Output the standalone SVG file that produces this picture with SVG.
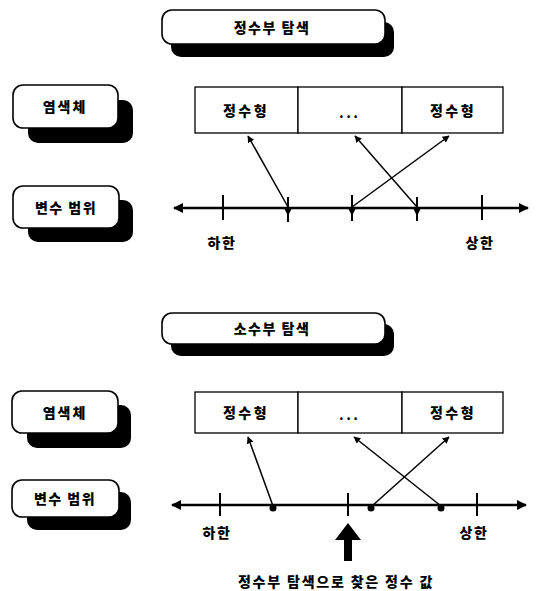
<svg xmlns="http://www.w3.org/2000/svg" width="542" height="591" viewBox="0 0 542 591">
<style>
.box{fill:#fff;stroke:#000;stroke-width:1.6}
.sh{fill:#000}
.cell{fill:#fff;stroke:#000;stroke-width:1.3}
.t{font-family:"Noto Sans CJK KR","Noto Sans",sans-serif;font-weight:900;fill:#000;text-anchor:middle;dominant-baseline:central}
.ln{stroke:#000;stroke-width:2.6;fill:none}
.tk{stroke:#000;stroke-width:2;fill:none}
.ar{stroke:#000;stroke-width:1.5;fill:none;marker-end:url(#ah)}
</style>
<defs>
<marker id="ah" viewBox="0 0 10 10" refX="9" refY="5" markerWidth="7" markerHeight="7" orient="auto" markerUnits="userSpaceOnUse">
<path d="M0,0 L10,5 L0,10 z" fill="#000"/>
</marker>
<marker id="lh" viewBox="0 0 10 10" refX="9" refY="5" markerWidth="12" markerHeight="10" orient="auto-start-reverse" markerUnits="userSpaceOnUse">
<path d="M0,0 L10,5 L0,10 z" fill="#000"/>
</marker>
</defs>

<!-- Top section -->
<g id="title1">
<rect class="sh" x="171" y="22" width="223" height="35" rx="10"/>
<rect class="box" x="162" y="10" width="223" height="34" rx="10"/>
<text class="t" x="272" y="27" font-size="14" letter-spacing="1.5">정수부 탐색</text>
</g>
<g id="chrom1">
<rect class="sh" x="28" y="100" width="105" height="43" rx="10"/>
<rect class="box" x="13" y="85" width="105" height="43" rx="10"/>
<text class="t" x="65" y="106" font-size="14" letter-spacing="2">염색체</text>
</g>
<g id="range1">
<rect class="sh" x="28" y="200" width="105" height="42" rx="10"/>
<rect class="box" x="13" y="186" width="106" height="42" rx="10"/>
<text class="t" x="66" y="207" font-size="14" letter-spacing="1.5">변수 범위</text>
</g>
<g id="cells1">
<rect class="cell" x="195" y="87" width="103" height="46"/>
<rect class="cell" x="298" y="87" width="104" height="46"/>
<rect class="cell" x="402" y="87" width="101" height="46"/>
<text class="t" x="246" y="110" font-size="14" letter-spacing="2.5">정수형</text>
<text class="t" x="350" y="112" font-size="12" letter-spacing="3">...</text>
<text class="t" x="453" y="110" font-size="14" letter-spacing="2.5">정수형</text>
</g>
<g id="axis1">
<line class="ln" x1="174" y1="208" x2="528" y2="208" marker-start="url(#lh)" marker-end="url(#lh)"/>
<line class="tk" x1="223" y1="195" x2="223" y2="220"/>
<line class="tk" x1="288" y1="197" x2="288" y2="222"/>
<line class="tk" x1="352" y1="195" x2="352" y2="221"/>
<line class="tk" x1="417" y1="197" x2="417" y2="221"/>
<line class="tk" x1="482" y1="195" x2="482" y2="220"/>
<path d="M284,208 L292,208 L288,216 z" fill="#000"/>
<path d="M348,208 L356,208 L352,216 z" fill="#000"/>
<path d="M413,208 L421,208 L417,216 z" fill="#000"/>
<text class="t" x="222" y="242" font-size="14" letter-spacing="1.5">하한</text>
<text class="t" x="480" y="242" font-size="14" letter-spacing="1.5">상한</text>
</g>
<g id="connectors1">
<line class="ar" x1="288" y1="207" x2="248" y2="136"/>
<line class="ar" x1="417" y1="207" x2="355" y2="136"/>
<line class="ar" x1="352" y1="207" x2="449" y2="136"/>
</g>

<!-- Bottom section -->
<g id="title2">
<rect class="sh" x="171" y="324" width="223" height="32" rx="10"/>
<rect class="box" x="162" y="313" width="223" height="31" rx="10"/>
<text class="t" x="272" y="328" font-size="14" letter-spacing="1.5">소수부 탐색</text>
</g>
<g id="chrom2">
<rect class="sh" x="27" y="405" width="104" height="43" rx="10"/>
<rect class="box" x="12" y="391" width="106" height="42" rx="10"/>
<text class="t" x="65" y="412" font-size="14" letter-spacing="2">염색체</text>
</g>
<g id="range2">
<rect class="sh" x="27" y="492" width="104" height="38" rx="10"/>
<rect class="box" x="12" y="480" width="107" height="37" rx="10"/>
<text class="t" x="65" y="498" font-size="14" letter-spacing="1.5">변수 범위</text>
</g>
<g id="cells2">
<rect class="cell" x="195" y="392" width="103" height="41"/>
<rect class="cell" x="298" y="392" width="104" height="41"/>
<rect class="cell" x="402" y="392" width="101" height="41"/>
<text class="t" x="246" y="412" font-size="14" letter-spacing="2.5">정수형</text>
<text class="t" x="350" y="414" font-size="12" letter-spacing="3">...</text>
<text class="t" x="453" y="412" font-size="14" letter-spacing="2.5">정수형</text>
</g>
<g id="axis2">
<line class="ln" x1="172" y1="505" x2="526" y2="505" marker-start="url(#lh)" marker-end="url(#lh)"/>
<line class="tk" x1="220" y1="493" x2="220" y2="516"/>
<line class="tk" x1="348" y1="493" x2="348" y2="516"/>
<line class="tk" x1="477" y1="493" x2="477" y2="516"/>
<circle cx="273" cy="508" r="3.5" fill="#000"/>
<circle cx="371" cy="508" r="3.5" fill="#000"/>
<circle cx="441" cy="508" r="3.5" fill="#000"/>
<text class="t" x="217" y="532" font-size="14" letter-spacing="1.5">하한</text>
<text class="t" x="474" y="532" font-size="14" letter-spacing="1.5">상한</text>
</g>
<g id="connectors2">
<line class="ar" x1="273" y1="506" x2="248" y2="437"/>
<line class="ar" x1="441" y1="506" x2="354" y2="437"/>
<line class="ar" x1="372" y1="506" x2="449" y2="437"/>
</g>
<g id="pointer">
<path d="M348,523 L361,540 L352,540 L352,561 L344,561 L344,540 L335,540 z" fill="#000"/>
<text class="t" x="336" y="581" font-size="14" letter-spacing="1.8">정수부 탐색으로 찾은 정수 값</text>
</g>
</svg>
